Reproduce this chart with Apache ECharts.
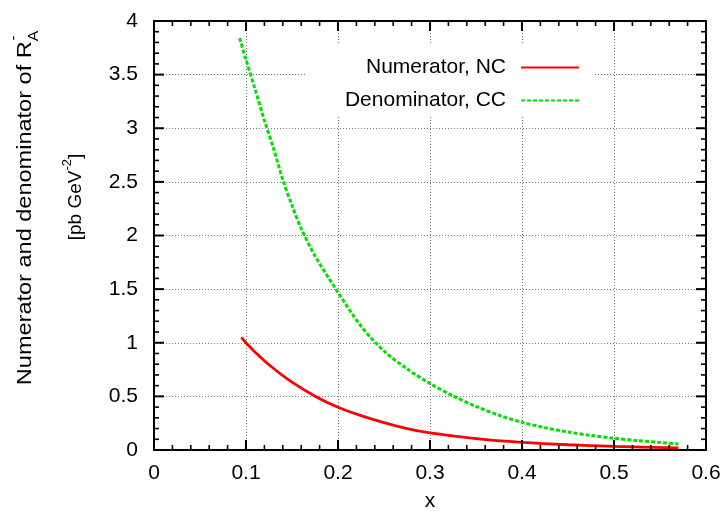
<!DOCTYPE html>
<html>
<head>
<meta charset="utf-8">
<script src="https://cdn.jsdelivr.net/npm/echarts@6/dist/echarts.min.js"></script>
<style>
html,body{margin:0;padding:0;background:#fff;}
#chart{width:727px;height:511px;}
</style>
</head>
<body>
<div id="chart"></div>
<script>
// ---- data ----
var xTickLabels = ['0', '0.1', '0.2', '0.3', '0.4', '0.5', '0.6'];
var yTickLabels = ['0', '0.5', '1', '1.5', '2', '2.5', '3', '3.5', '4'];
var seriesNames = ['Numerator, NC', 'Denominator, CC'];

var ncX = [0.095, 0.1, 0.11, 0.125, 0.15, 0.175, 0.2, 0.225, 0.25, 0.275, 0.3, 0.35, 0.4, 0.45, 0.5, 0.57];
var ncY = [1.05, 1.0, 0.912, 0.795, 0.632, 0.502, 0.398, 0.32, 0.255, 0.2, 0.16, 0.107, 0.072, 0.049, 0.034, 0.02];

var ccX = [0.093, 0.1, 0.11, 0.12, 0.13, 0.14, 0.15, 0.16, 0.175, 0.2, 0.225, 0.25, 0.275, 0.3, 0.325, 0.35, 0.375, 0.4, 0.425, 0.45, 0.475, 0.5, 0.525, 0.55, 0.57];
var ccY = [3.84, 3.64, 3.36, 3.075, 2.81, 2.52, 2.28, 2.065, 1.81, 1.47, 1.155, 0.923, 0.757, 0.62, 0.505, 0.406, 0.324, 0.258, 0.208, 0.168, 0.135, 0.109, 0.088, 0.07, 0.057];

function pairs(xs, ys) { return xs.map(function (x, i) { return [x, ys[i]]; }); }

var X_MAX = 0.6, Y_MAX = 4, X_STEP = 0.1, Y_STEP = 0.5, MINOR_DIV = 5;

var FONT = '"Liberation Sans", Arial, Helvetica, sans-serif';
var chart = echarts.init(document.getElementById('chart'), null, {renderer: 'canvas'});

function mkAxis(kind, pos, showLabel) {
  var isX = kind === 'x';
  return {
    type: 'value',
    position: pos,
    min: 0,
    max: isX ? X_MAX : Y_MAX,
    interval: isX ? X_STEP : Y_STEP,
    axisLine: {show: true, onZero: false, lineStyle: {color: '#000', width: 2}},
    axisTick: {show: false},
    minorTick: {show: false},
    splitLine: {show: showLabel, lineStyle: {color: '#777', width: 1, type: [1, 2]}},
    axisLabel: {show: showLabel, color: '#000', fontSize: 21, fontFamily: FONT, margin: isX ? 13 : 16,
      formatter: function (v) { return isX ? xTickLabels[Math.round(v / X_STEP)] : yTickLabels[Math.round(v / Y_STEP)]; }}
  };
}

var textGraphics = [
  {type: 'text', x: 25, y: 208, rotation: Math.PI / 2, scaleX: 1.12,
   style: {text: 'Numerator and denominator of R{s|A}', fill: '#000', font: '21px ' + FONT,
     align: 'center', verticalAlign: 'middle',
     rich: {s: {fontSize: 14, fontFamily: FONT, fill: '#000', verticalAlign: 'bottom', lineHeight: 32, padding: [11, 0, 0, 0]}}}},
  {type: 'text', x: 14, y: 38, rotation: Math.PI / 2,
   style: {text: '-', fill: '#000', font: '14px ' + FONT, align: 'center', verticalAlign: 'middle'}},
  {type: 'text', x: 76, y: 197, rotation: Math.PI / 2,
   style: {text: '[pb GeV{p|-2}]', fill: '#000', font: '19px ' + FONT,
     align: 'center', verticalAlign: 'middle',
     rich: {p: {fontSize: 13, fontFamily: FONT, fill: '#000', verticalAlign: 'top', lineHeight: 30, padding: [0, 0, 10, 0]}}}},
  {type: 'text', x: 430, y: 501,
   style: {text: 'x', fill: '#000', font: '21px ' + FONT, align: 'center', verticalAlign: 'middle'}}
];

var option = {
  backgroundColor: '#fff',
  animation: false,
  textStyle: {fontFamily: FONT},
  grid: {left: 154, right: 21, top: 21, bottom: 61, containLabel: false},
  xAxis: [mkAxis('x', 'bottom', true), mkAxis('x', 'top', false)],
  yAxis: [mkAxis('y', 'left', true), mkAxis('y', 'right', false)],
  legend: {
    orient: 'vertical', align: 'right',
    right: 134, top: 45,
    padding: [12, 13, 5, 39],
    itemGap: 12, itemWidth: 58, itemHeight: 14,
    backgroundColor: '#fff',
    itemStyle: {color: 'rgba(0,0,0,0)', borderColor: 'rgba(0,0,0,0)', borderWidth: 0, opacity: 0},
    textStyle: {color: '#000', fontSize: 21, fontFamily: FONT,
      rich: {t: {fontSize: 21, fontFamily: FONT, color: '#000', lineHeight: 24, padding: [0, 10, 0, 0]}}},
    formatter: function (name) { return '{t|' + name + '}'; },
    data: seriesNames
  },
  series: [
    {name: seriesNames[0], type: 'line', xAxisIndex: 0, yAxisIndex: 0,
     data: pairs(ncX, ncY), smooth: 0.3, showSymbol: false, symbol: 'none',
     lineStyle: {color: '#ff0000', width: 2.8}, itemStyle: {color: '#ff0000'}},
    {name: seriesNames[1], type: 'line', xAxisIndex: 0, yAxisIndex: 0,
     data: pairs(ccX, ccY), smooth: 0.3, showSymbol: false, symbol: 'none',
     lineStyle: {color: '#00e000', width: 3, type: [4, 2]}, itemStyle: {color: '#00e000'}}
  ],
  graphic: textGraphics
};
chart.setOption(option);

// inward ticks on all four sides (major + minor), positioned through the chart's own axis scales
function buildTicks() {
  var els = [];
  function toPx(axisKey, v) {
    var f = {}; f[axisKey] = 0;
    var r = chart.convertToPixel(f, v);
    return (r && r.length !== undefined) ? r[0] : r;
  }
  var left = toPx('xAxisIndex', 0), right = toPx('xAxisIndex', X_MAX);
  var bottom = toPx('yAxisIndex', 0), top = toPx('yAxisIndex', Y_MAX);
  function seg(x1, y1, x2, y2, w) {
    els.push({type: 'rect', silent: true, z: 50,
      shape: {x: Math.min(x1, x2) - (x1 === x2 ? w / 2 : 0), y: Math.min(y1, y2) - (y1 === y2 ? w / 2 : 0),
              width: x1 === x2 ? w : Math.abs(x2 - x1), height: y1 === y2 ? w : Math.abs(y2 - y1)},
      style: {fill: '#000'}});
  }
  var nx = Math.round(X_MAX / X_STEP) * MINOR_DIV;
  for (var i = 1; i < nx; i++) {
    var px = toPx('xAxisIndex', i * X_STEP / MINOR_DIV);
    var major = i % MINOR_DIV === 0;
    var len = major ? 10 : 5, w = major ? 2 : 1.6;
    seg(px, bottom, px, bottom - len, w);
    seg(px, top, px, top + len, w);
  }
  var ny = Math.round(Y_MAX / Y_STEP) * MINOR_DIV;
  for (var j = 1; j < ny; j++) {
    var py = toPx('yAxisIndex', j * Y_STEP / MINOR_DIV);
    var majorY = j % MINOR_DIV === 0;
    var lenY = majorY ? 10 : 5, wY = majorY ? 2 : 1.6;
    seg(left, py, left + lenY, py, wY);
    seg(right, py, right - lenY, py, wY);
  }
  return els;
}
var tickEls = [];
try { tickEls = buildTicks(); } catch (e) { tickEls = []; }
chart.setOption({graphic: textGraphics.concat(tickEls)}, {replaceMerge: ['graphic']});
</script>
</body>
</html>
